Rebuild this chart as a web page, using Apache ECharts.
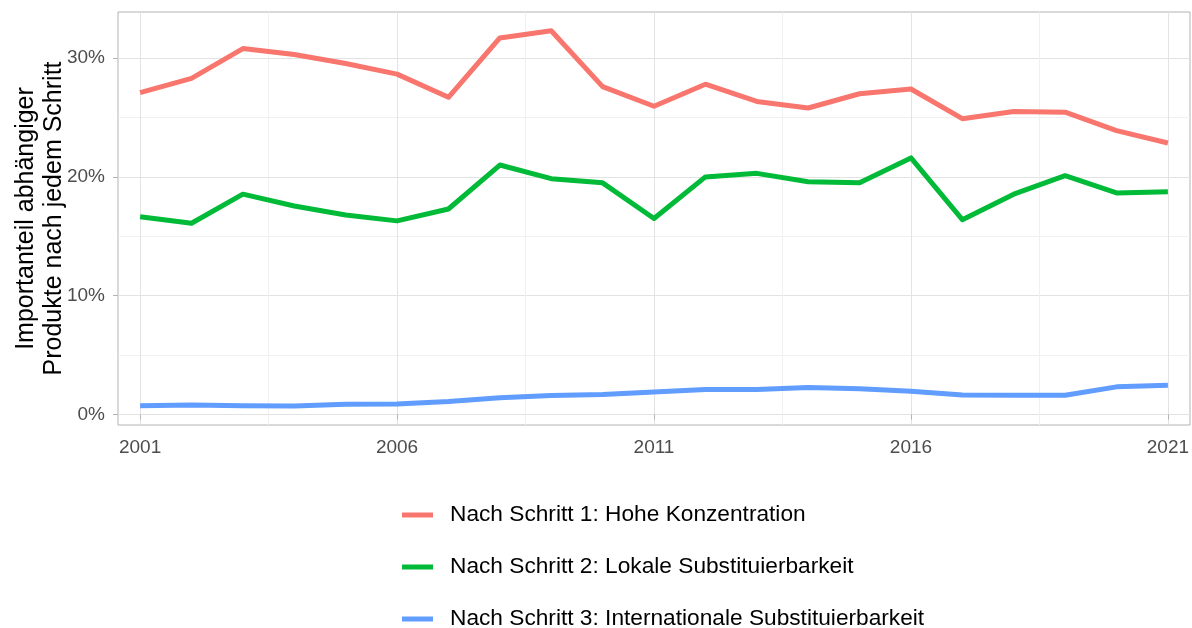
<!DOCTYPE html>
<html>
<head>
<meta charset="utf-8">
<script src="https://cdn.jsdelivr.net/npm/echarts@6/dist/echarts.min.js"></script>
<style>
  html, body { margin: 0; padding: 0; background: #fff; }
  #chart { width: 1192px; height: 628px; }
</style>
</head>
<body>
<div id="chart"></div>
<script>
// Jahre und Anteile (in %)
const years = [2001, 2002, 2003, 2004, 2005, 2006, 2007, 2008, 2009, 2010, 2011,
               2012, 2013, 2014, 2015, 2016, 2017, 2018, 2019, 2020, 2021]
const schritt1 = [27.1, 28.3, 30.8, 30.3, 29.55, 28.65, 26.7, 31.7, 32.3, 27.6, 25.95,
                  27.8, 26.35, 25.8, 27.0, 27.4, 24.9, 25.5, 25.45, 23.9, 22.85]
const schritt2 = [16.65, 16.1, 18.55, 17.55, 16.8, 16.3, 17.3, 21.0, 19.85, 19.5, 16.5,
                  20.0, 20.3, 19.6, 19.5, 21.6, 16.4, 18.55, 20.1, 18.65, 18.75]
const schritt3 = [0.75, 0.8, 0.75, 0.72, 0.87, 0.89, 1.1, 1.42, 1.6, 1.68, 1.9,
                  2.1, 2.1, 2.28, 2.18, 1.96, 1.64, 1.63, 1.63, 2.33, 2.46]
const seriesNames = [
    'Nach Schritt 1: Hohe Konzentration',
    'Nach Schritt 2: Lokale Substituierbarkeit',
    'Nach Schritt 3: Internationale Substituierbarkeit'
]
const xTicks = [2001, 2006, 2011, 2016, 2021]
const xMinor = [2003.5, 2008.5, 2013.5, 2018.5]
const yTicks = [0, 10, 20, 30]
const yMinor = [5, 15, 25]
const colors = ['#F8766D', '#00BA38', '#619CFF']

const xMin = 2000.57, xMax = 2021.43
const yMin = -0.88, yMax = 33.88
const font = '"Liberation Sans", Arial, sans-serif'

function pairs(vals) {
    return years.map((y, i) => [y, vals[i]])
}

const chart = echarts.init(document.getElementById('chart'))
chart.setOption({
    animation: false,
    backgroundColor: '#ffffff',
    grid: {
        left: 118, right: 2, top: 12, bottom: 203,
        outerBoundsMode: 'none', containLabel: false,
        show: true, borderColor: '#b3b3b3', borderWidth: 1, backgroundColor: 'transparent'
    },
    xAxis: [
        {
            type: 'value', min: xMin, max: xMax,
            axisLine: { show: false },
            axisTick: { show: true, length: 5, customValues: xTicks, lineStyle: { color: '#b3b3b3' } },
            axisLabel: { customValues: xTicks, color: '#4d4d4d', fontSize: 19, fontFamily: font, margin: 13,
                formatter: v => String(v) },
            splitLine: { show: true, lineStyle: { color: '#e3e3e3', width: 1 } }
        },
        {
            type: 'value', min: xMin, max: xMax, position: 'bottom',
            axisLine: { show: false },
            axisTick: { show: false, customValues: xMinor },
            axisLabel: { show: false, customValues: xMinor },
            splitLine: { show: true, lineStyle: { color: '#f0f0f0', width: 1 } }
        }
    ],
    yAxis: [
        {
            type: 'value', min: yMin, max: yMax,
            axisLine: { show: false },
            axisTick: { show: true, length: 5, customValues: yTicks, lineStyle: { color: '#b3b3b3' } },
            axisLabel: { customValues: yTicks, color: '#4d4d4d', fontSize: 19, fontFamily: font, margin: 13,
                formatter: v => v + '%' },
            splitLine: { show: true, lineStyle: { color: '#e3e3e3', width: 1 } },
            name: 'Importanteil abhängiger\nProdukte nach jedem Schritt',
            nameLocation: 'middle', nameRotate: 90, nameGap: 50, nameMoveOverlap: false,
            nameTextStyle: { color: '#000', fontSize: 25, fontFamily: font, lineHeight: 28 }
        },
        {
            type: 'value', min: yMin, max: yMax, position: 'left',
            axisLine: { show: false },
            axisTick: { show: false, customValues: yMinor },
            axisLabel: { show: false, customValues: yMinor },
            splitLine: { show: true, lineStyle: { color: '#f0f0f0', width: 1 } }
        }
    ],
    legend: {
        orient: 'vertical',
        left: 402, top: 502, height: 140, padding: 0,
        icon: 'rect', itemWidth: 31, itemHeight: 5, itemGap: 26,
        textStyle: { color: '#000', fontSize: 22.7, fontFamily: font, lineHeight: 26, padding: [0, 0, 0, 12] },
        data: seriesNames
    },
    series: [schritt1, schritt2, schritt3].map((vals, i) => ({
        name: seriesNames[i],
        type: 'line',
        data: pairs(vals),
        showSymbol: false,
        symbol: 'none',
        color: colors[i],
        lineStyle: { width: 5, color: colors[i], join: 'round' },
        z: 3
    }))
})
</script>
</body>
</html>
